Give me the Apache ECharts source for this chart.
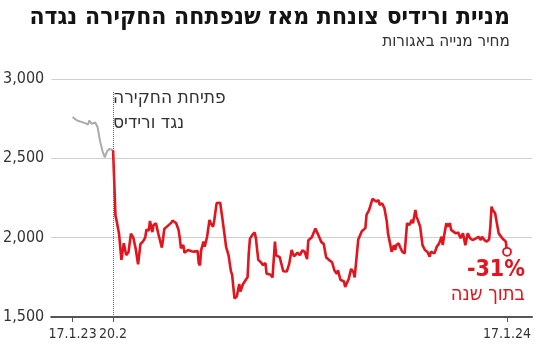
<!DOCTYPE html>
<html>
<head>
<meta charset="utf-8">
<script src="https://cdn.jsdelivr.net/npm/echarts@6/dist/echarts.min.js"></script>
<style>html,body{margin:0;padding:0;background:#fff}#c{width:550px;height:350px}</style>
</head>
<body>
<div id="c"></div>
<script>
// Days since 17.1.2023
const grayDays = [0,3,5,8,11,13,14,16,19,21,23,25,27,29,31,34];
const grayPrice = [2760,2743,2735,2728,2720,2713,2738,2718,2726,2696,2610,2549,2506,2545,2560,2550];

const redDays = [34,36,37,39,41,43,45,47,49,51,53,55,57,59,61,62,64,65,67,68,70,71,72,75,76,77,79,83,84,87,89,90,91,93,94,97,100,102,105,106,107,108,110,111,113,115,116,118,119,121,122,124,126,127,129,131,133,134,136,138,140,141,143,145,147,148,149,151,153,154,156,158,160,162,163,166,168,170,171,174,177,180,182,184,186,189,191,193,195,197,198,201,204,206,209,211,213,216,218,220,222,223,225,228,229,232,234,236,237,240,243,246,247,249,252,253,255,257,258,260,261,262,264,265,267,268,270,271,272,274,275,277,279,281,283,285,286,288,289,290,292,294,296,298,299,300,301,304,306,308,310,311,312,314,315,317,318,320,322,324,326,328,330,332,334,336,339,341,343,344,346,347,348,350,351,352,353,355,357,358,359,361,362,364,365];
const redPrice = [2550,2140,2105,2025,1860,1965,1890,1910,2025,2000,1930,1832,1960,1975,2000,2050,2045,2105,2035,2080,2090,2095,2025,1937,1990,2055,2068,2095,2108,2091,2049,2000,1933,1954,1905,1922,1915,1912,1916,1838,1825,1922,1975,1943,2006,2112,2091,2068,2108,2218,2222,2220,2112,2100,1940,1890,1789,1767,1617,1631,1708,1660,1705,1728,1750,1900,1994,2017,2033,1996,1860,1847,1827,1840,1772,1768,1750,1975,1888,1877,1788,1787,1835,1922,1882,1905,1890,1920,1910,1865,1982,2003,2057,2024,1972,1961,1877,1856,1845,1793,1772,1795,1735,1724,1690,1740,1803,1782,1750,1988,2040,2060,2145,2172,2245,2255,2228,2236,2207,2217,2220,2185,2101,2027,1953,1911,1953,1922,1953,1964,1943,1911,1901,2091,2080,2112,2091,2175,2133,2112,2070,1953,1922,1911,1901,1880,1911,1901,1943,1964,2006,1953,2006,2091,2070,2091,2049,2038,2027,2032,1996,2027,1953,2027,1996,1985,1996,2006,1985,2006,1985,1996,1975,1990,2070,2196,2175,2154,2070,2027,2027,1996,1996,1975,1911];

// tick positions, in days since 17.1.2023
const tickDays = [0, 34, 365];
const tickLabels = ['17.1.23', '20.2', '17.1.24'];
const yTicks = [1500, 2000, 2500, 3000];

const titleText = 'מניית ורידיס צונחת מאז שנפתחה החקירה נגדה';
const subtitleText = 'מחיר מנייה באגורות';
const noteLines = ['פתיחת החקירה', 'נגד ורידיס'];
const changeText = '-31%';
const changeSub = 'בתוך שנה';

const RED = '#e2141d';
const NARROW = "'Liberation Sans Narrow','DejaVu Sans Condensed','Liberation Sans',sans-serif";

// axis counts days since 1.1.2023 (17.1.2023 is day 16)
const OFF = 16;
const X = d => d + OFF;
const xTicks = tickDays.map(X);
const zip = (a, b) => a.map((d, i) => [X(d), b[i]]);
const lastX = X(redDays[redDays.length - 1]);
const lastVal = redPrice[redPrice.length - 1];

// one bottom axis per labelled tick, so none is dropped by label layout
const xAxes = xTicks.map((t, i) => ({
  type: 'value', min: X(-18), max: X(386), position: 'bottom',
  axisLine: {show: i === 0, lineStyle: {color: '#555', width: 2}},
  axisTick: {show: true, customValues: [t], length: 5, lineStyle: {color: '#555', width: 1}},
  axisLabel: {
    customValues: [t], margin: 10, color: '#333', fontSize: 14, fontFamily: NARROW,
    showMinLabel: true, showMaxLabel: true, hideOverlap: false,
    formatter: () => tickLabels[i]
  },
  splitLine: {show: false}
}));

const chart = echarts.init(document.getElementById('c'), null, {renderer: 'canvas'});
chart.setOption({
  animation: false,
  backgroundColor: '#fff',
  grid: {left: 45, right: 18, top: 79, bottom: 33},
  xAxis: xAxes,
  yAxis: {
    type: 'value', min: yTicks[0], max: yTicks[yTicks.length - 1], interval: 500,
    axisLine: {show: false}, axisTick: {show: false},
    axisLabel: {
      margin: 7, color: '#333', fontSize: 16, fontFamily: NARROW,
      formatter: v => v.toLocaleString('en-US')
    },
    splitLine: {lineStyle: {color: '#d0d0d0', width: 1}}
  },
  series: [
    {
      type: 'line', xAxisIndex: 0, data: zip(grayDays, grayPrice), showSymbol: false,
      lineStyle: {color: '#ababab', width: 2}, z: 2
    },
    {
      type: 'line', xAxisIndex: 0, data: zip(redDays, redPrice), showSymbol: false,
      lineStyle: {color: RED, width: 2.6}, z: 3,
      markLine: {
        silent: true, symbol: 'none', label: {show: false},
        lineStyle: {color: '#666', type: 'dotted', width: 1},
        data: [[{coord: [xTicks[1], yTicks[0]]}, {coord: [xTicks[1], 2920]}]]
      },
      markPoint: {
        silent: true,
        data: [{coord: [lastX, lastVal], symbol: 'circle', symbolSize: 8,
          itemStyle: {color: '#fff', borderColor: RED, borderWidth: 1.8}}],
        label: {show: false}
      }
    }
  ],
  graphic: [
    {type: 'text', right: 40, top: 5, style: {text: titleText, fill: '#141414', font: "bold 24.5px 'DejaVu Sans Condensed','Liberation Sans',sans-serif"}},
    {type: 'text', right: 40, top: 33, style: {text: subtitleText, fill: '#333', font: "17px " + NARROW}},
    {type: 'text', left: 113, top: 89, style: {text: noteLines[0], fill: '#333', font: "19px " + NARROW}},
    {type: 'text', left: 113, top: 114, style: {text: noteLines[1], fill: '#333', font: "19px " + NARROW}},
    {type: 'text', right: 25, top: 259, style: {text: changeText, fill: RED, font: "bold 23px " + NARROW}},
    {type: 'text', right: 25, top: 285, style: {text: changeSub, fill: RED, font: "20px " + NARROW}}
  ]
});
</script>
</body>
</html>
